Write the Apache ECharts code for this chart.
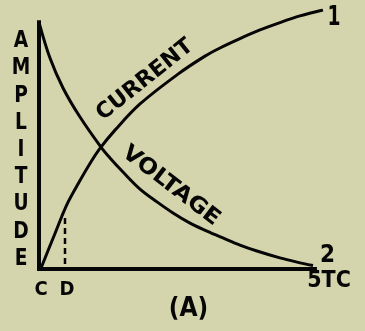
<!DOCTYPE html>
<html>
<head>
<meta charset="utf-8">
<script src="https://cdn.jsdelivr.net/npm/echarts@6/dist/echarts.min.js"></script>
<style>
  html, body { margin: 0; padding: 0; background: #d5d5ad; }
  #chart { width: 365px; height: 331px; }
</style>
</head>
<body>
<div id="chart"></div>
<script>
// Time in time-constants (TC), amplitude normalised
const voltageTime  = [0, 0.199, 0.435, 0.743, 1.123, 1.286, 1.522, 1.830, 2.138, 2.428, 2.736, 3.043, 3.333, 3.641, 3.949, 4.366, 4.674, 4.964];
const voltageValue = [1.0, 0.855, 0.734, 0.616, 0.494, 0.450, 0.393, 0.324, 0.272, 0.227, 0.186, 0.154, 0.126, 0.097, 0.073, 0.045, 0.028, 0.014];

const currentTime  = [0.03, 0.168, 0.290, 0.411, 0.531, 0.712, 0.924, 1.105, 1.377, 1.830, 2.518, 3.007, 3.279, 3.641, 4.004, 4.366, 4.728, 5.145];
const currentValue = [0, 0.077, 0.144, 0.212, 0.273, 0.347, 0.428, 0.489, 0.563, 0.669, 0.790, 0.863, 0.896, 0.934, 0.969, 0.999, 1.026, 1.050];

const axisFrame = [[0, 1.0], [0, 0], [5, 0]];   // amplitude axis top, origin, 5 TC
const markerD = [[0.471, 0.207], [0.471, 0]];   // dashed line at D

const tickLabels = ['C', 'D', '5TC'];
const endLabels = ['1', '2'];
const curveLabels = ['CURRENT', 'VOLTAGE'];
const axisTitle = 'AMPLITUDE';
const caption = '(A)';

const zip = (xs, ys) => xs.map((x, i) => [x, ys[i]]);

const FONT = '"DejaVu Sans Condensed", "DejaVu Sans", sans-serif';
const INK = '#060606';

function txt(text, x, y, size, extra) {
  return Object.assign({
    type: 'text', x: x, y: y, z: 100,
    style: {
      text: text, fill: INK, font: 'bold ' + size + 'px ' + FONT,
      align: 'center', verticalAlign: 'middle'
    }
  }, extra || {});
}

const chart = echarts.init(document.getElementById('chart'), null, { renderer: 'canvas' });
chart.setOption({
  backgroundColor: '#d5d5ad',
  animation: false,
  grid: { left: 39, right: 39, top: 10, bottom: 62 },
  xAxis: { type: 'value', min: 0, max: 5.2, show: false },
  yAxis: { type: 'value', min: 0, max: 1.05, show: false },
  series: [
    {
      type: 'line', data: axisFrame, symbol: 'none', silent: true,
      lineStyle: { color: INK, width: 4, cap: 'square', join: 'miter' }
    },
    {
      type: 'line', data: zip(voltageTime, voltageValue), symbol: 'none',
      smooth: 0.35,
      lineStyle: { color: INK, width: 3 }
    },
    {
      type: 'line', data: zip(currentTime, currentValue), symbol: 'none',
      smooth: 0.35,
      lineStyle: { color: INK, width: 3 }
    },
    {
      type: 'line', data: markerD, symbol: 'none',
      lineStyle: { color: INK, width: 2.5, type: [6, 4] }
    }
  ],
  graphic: [
    {
      type: 'text', x: 21, y: 150, z: 100, scaleX: 0.9,
      style: {
        text: axisTitle.split('').join('\n'), fill: INK, font: 'bold 23px ' + FONT,
        align: 'center', verticalAlign: 'middle', lineHeight: 27.2
      }
    },
    txt(tickLabels[0], 41, 290, 20),
    txt(tickLabels[1], 67, 290, 20),
    txt(tickLabels[2], 329, 281, 23),
    txt(endLabels[0], 334, 18, 26, { scaleX: 0.8 }),
    txt(endLabels[1], 327.5, 256, 24),
    txt(caption, 188.5, 309, 26),
    txt(curveLabels[0], 145, 80, 22, { rotation: 38.5 * Math.PI / 180, scaleX: 1.12 }),
    txt(curveLabels[1], 171, 186, 22, { rotation: -37.5 * Math.PI / 180, scaleX: 1.2 })
  ]
});
</script>
</body>
</html>
